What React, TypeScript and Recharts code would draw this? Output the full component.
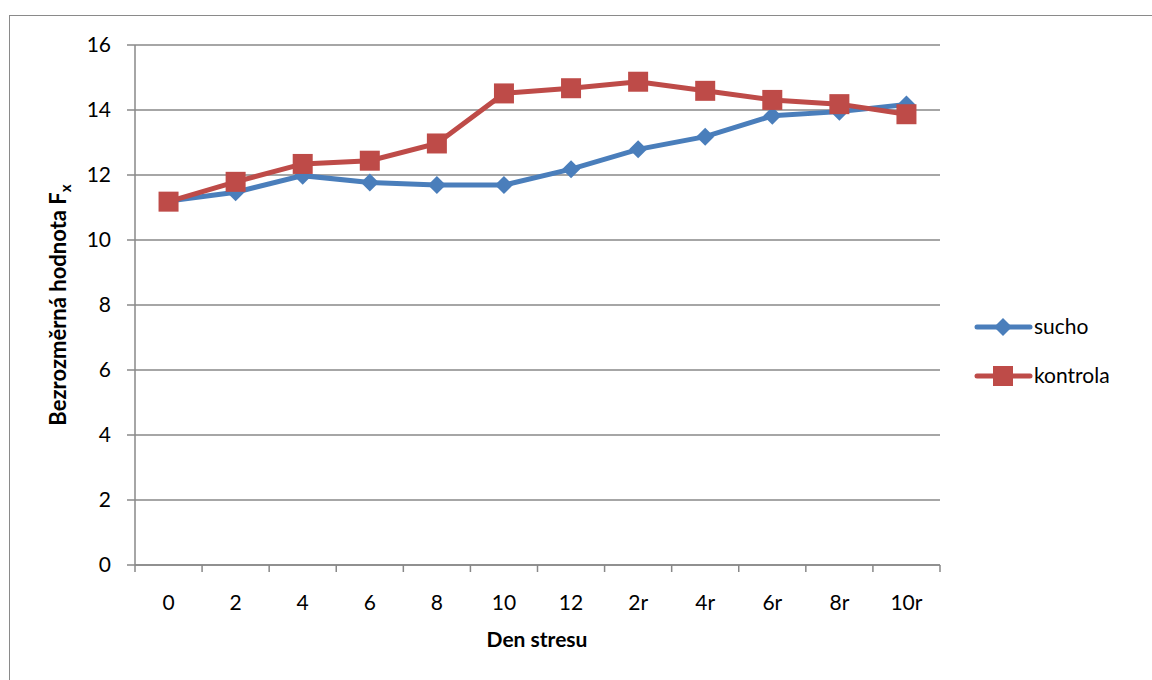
import React from 'react';
import { LineChart, Line, XAxis, YAxis, CartesianGrid, Legend, Label } from 'recharts';

// Stress days (r = recovery days)
const categories = ['0', '2', '4', '6', '8', '10', '12', '2r', '4r', '6r', '8r', '10r'];
const sucho = [11.2, 11.47, 11.98, 11.77, 11.69, 11.69, 12.18, 12.79, 13.18, 13.82, 13.95, 14.17];
const kontrola = [11.18, 11.79, 12.34, 12.44, 12.97, 14.51, 14.67, 14.87, 14.59, 14.31, 14.18, 13.87];
const yTicks = [0, 2, 4, 6, 8, 10, 12, 14, 16];

const data = categories.map((c, i) => ({ i, day: c, sucho: sucho[i], kontrola: kontrola[i] }));

// tick positions: integers carry labels, half-integers are the band boundaries
const xTicks: number[] = [];
for (let k = -0.5; k <= categories.length - 0.5 + 1e-9; k += 0.5) xTicks.push(k);

const FONT = 'Lato, "Open Sans", sans-serif';
const BLUE = '#4A7EBB';
const RED = '#BE4B48';
const GRID = '#888888';
const TICK_FS = 21;

const XTick = (props: any) => {
  const { x, y, payload } = props;
  const v = payload.value as number;
  if (Math.abs(v - Math.round(v)) > 0.01) {
    return <line x1={x} x2={x} y1={y} y2={y + 7} stroke={GRID} strokeWidth={1.5} />;
  }
  return (
    <text x={x} y={y + 45} textAnchor="middle" fontSize={TICK_FS} fontFamily={FONT} fill="#000">
      {categories[Math.round(v)]}
    </text>
  );
};

const Diamond = (props: any) => {
  const { cx, cy, index } = props;
  const r = 9;
  return (
    <path key={`d${index}`} d={`M${cx},${cy - r}L${cx + r},${cy}L${cx},${cy + r}L${cx - r},${cy}Z`} fill={BLUE} />
  );
};

const Square = (props: any) => {
  const { cx, cy, index } = props;
  const s = 10;
  return <rect key={`s${index}`} x={cx - s} y={cy - s} width={2 * s} height={2 * s} fill={RED} />;
};

const LegendBox = () => {
  const items = [
    { name: 'sucho', color: BLUE, marker: 'diamond' },
    { name: 'kontrola', color: RED, marker: 'square' },
  ];
  return (
    <svg width={170} height={100}>
      {items.map((it, k) => {
        const cy = 27 + k * 49;
        return (
          <g key={it.name}>
            <line x1={7} x2={60} y1={cy} y2={cy} stroke={it.color} strokeWidth={5} strokeLinecap="round" />
            {it.marker === 'diamond' ? (
              <path d={`M33,${cy - 9}L42,${cy}L33,${cy + 9}L24,${cy}Z`} fill={it.color} />
            ) : (
              <rect x={23} y={cy - 10} width={20} height={20} fill={it.color} />
            )}
            <text x={64} y={cy + 7} fontSize={TICK_FS} fontFamily={FONT} fill="#000">
              {it.name}
            </text>
          </g>
        );
      })}
    </svg>
  );
};

const YLabel = () => {
  const cx = 66;
  const cy = 305;
  return (
    <text
      x={cx}
      y={cy}
      transform={`rotate(-90, ${cx}, ${cy})`}
      textAnchor="middle"
      fontSize={22}
      fontWeight="bold"
      fontFamily={FONT}
      fill="#000"
    >
      Bezrozměrná hodnota F
      <tspan fontSize={15} dy={5}>x</tspan>
    </text>
  );
};

export default function App() {
  return (
    <div style={{ position: 'absolute', left: 0, top: 0, width: 1152, height: 680, background: '#fff', overflow: 'hidden' }}>
      <div
        style={{
          position: 'absolute',
          left: 9,
          top: 15,
          width: 1200,
          height: 700,
          borderLeft: '1.5px solid #8a8a8a',
          borderTop: '1.5px solid #8a8a8a',
        }}
      />
      <div style={{ position: 'absolute', left: 0, top: 0 }}>
        <LineChart width={1152} height={680} data={data} margin={{ top: 45, right: 42, bottom: 55, left: 75 }}>
          <CartesianGrid vertical={false} stroke={GRID} strokeWidth={1.5} />
          <XAxis
            dataKey="i"
            type="number"
            domain={[-0.5, categories.length - 0.5]}
            ticks={xTicks}
            interval={0}
            height={60}
            tickSize={0}
            tickMargin={0}
            tickLine={false}
            axisLine={{ stroke: GRID, strokeWidth: 1.5 }}
            tick={<XTick />}
          >
            <Label
              value="Den stresu"
              position="insideBottom"
              content={() => (
                <text x={537} y={647} textAnchor="middle" fontSize={21} fontWeight="bold" fontFamily={FONT} fill="#000">
                  Den stresu
                </text>
              )}
            />
          </XAxis>
          <YAxis
            width={60}
            domain={[0, 16]}
            ticks={yTicks}
            interval={0}
            tickSize={8}
            tickMargin={16}
            tickLine={{ stroke: GRID, strokeWidth: 1.5 }}
            axisLine={{ stroke: GRID, strokeWidth: 1.5 }}
            tick={{ fontSize: TICK_FS, fontFamily: FONT, fill: '#000' }}
          >
            <Label content={<YLabel />} />
          </YAxis>
          <Legend
            layout="vertical"
            align="right"
            verticalAlign="top"
            content={() => <LegendBox />}
            wrapperStyle={{ position: 'absolute', left: 970, top: 300, width: 170 }}
          />
          <Line
            dataKey="sucho"
            name="sucho"
            stroke={BLUE}
            strokeWidth={5}
            dot={<Diamond />}
            activeDot={false}
            isAnimationActive={false}
          />
          <Line
            dataKey="kontrola"
            name="kontrola"
            stroke={RED}
            strokeWidth={5}
            dot={<Square />}
            activeDot={false}
            isAnimationActive={false}
          />
        </LineChart>
      </div>
    </div>
  );
}
